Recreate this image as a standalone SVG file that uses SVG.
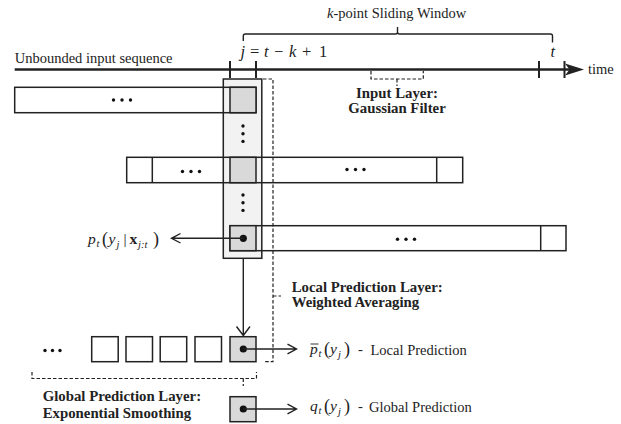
<svg xmlns="http://www.w3.org/2000/svg" width="621" height="424" viewBox="0 0 621 424">
<style>
text{font-family:"Liberation Serif","Times New Roman",serif;fill:#222}
.t{font-size:14.5px}
.b{font-size:14.8px;font-weight:bold}
.m{font-size:15.5px}
.e{font-size:16.5px}
.i{font-style:italic}
.s{font-size:10.5px;font-style:italic}
.pa{font-size:18px}
.ln{stroke:#222;stroke-width:1.4;fill:none}
.row{fill:#fff;stroke:none}
.out{fill:none;stroke:#222;stroke-width:1.5}
.cell{fill:#d9d9d9;stroke:#222;stroke-width:1.5}
.box{fill:#fff;stroke:#222;stroke-width:1.5}
.dash{fill:none;stroke:#222;stroke-width:1.2;stroke-dasharray:3.5,2}
.dot{fill:#111}
</style>

<g id="timeline">
<line x1="14.7" y1="69.5" x2="570" y2="69.5" stroke="#222" stroke-width="2.6"/>
<polygon points="584,69.5 565,63.5 569.5,69.5 565,75.5" fill="#222"/>
<line x1="230" y1="61" x2="230" y2="78" stroke="#222" stroke-width="2"/>
<line x1="256" y1="61" x2="256" y2="78" stroke="#222" stroke-width="2"/>
<line x1="539" y1="61" x2="539" y2="78" stroke="#222" stroke-width="2"/>
<line x1="564.5" y1="61" x2="564.5" y2="78" stroke="#222" stroke-width="2"/>
<text class="t" x="14.7" y="63">Unbounded input sequence</text>
<text class="t" x="588" y="73.5">time</text>
<text class="e" y="57"><tspan class="i" x="240.5">j</tspan><tspan x="250">=</tspan><tspan class="i" x="264">t</tspan><tspan x="274">−</tspan><tspan class="i" x="289">k</tspan><tspan x="302">+</tspan><tspan x="319">1</tspan></text>
<text class="e i" x="550.5" y="57">t</text>
</g>

<g id="window">
<path class="ln" d="M243.3,41 V36 Q243.3,34 245.3,34 H395.5 Q397.5,34 397.5,32 V27 M397.5,32 Q397.5,34 399.5,34 H550.5 Q552.5,34 552.5,36 V42.5"/>
<text class="t" x="327" y="18"><tspan class="i">k</tspan>-point Sliding Window</text>
</g>

<g id="input-layer">
<path class="dash" d="M371,71 V79 H423.3 V71 M397,79 V86"/>
<text class="b" x="397" y="98" text-anchor="middle">Input Layer:</text>
<text class="b" x="397" y="112.5" text-anchor="middle">Gaussian Filter</text>
</g>

<g id="rows-bg">
<rect class="row" x="14.7" y="87.3" width="241.3" height="25.4"/>
<rect class="row" x="126.7" y="157.3" width="336" height="25.4"/>
<rect class="row" x="230" y="225.7" width="336" height="25"/>
</g>

<g id="column">
<rect x="223.3" y="79" width="38.5" height="179.3" fill="#f2f2f2" stroke="#222" stroke-width="1.5"/>
<circle class="dot" cx="243" cy="126" r="1.7"/>
<circle class="dot" cx="243" cy="133.7" r="1.7"/>
<circle class="dot" cx="243" cy="141.4" r="1.7"/>
<circle class="dot" cx="243" cy="195" r="1.7"/>
<circle class="dot" cx="243" cy="202.7" r="1.7"/>
<circle class="dot" cx="243" cy="210.4" r="1.7"/>
</g>

<g id="row1">
<rect class="out" x="14.7" y="87.3" width="241.3" height="25.4"/>
<rect class="cell" x="230" y="87.3" width="26" height="25.4"/>
<circle class="dot" cx="113.5" cy="100" r="1.7"/>
<circle class="dot" cx="122" cy="100" r="1.7"/>
<circle class="dot" cx="130.5" cy="100" r="1.7"/>
</g>

<g id="row2">
<rect class="out" x="126.7" y="157.3" width="336" height="25.4"/>
<line class="out" x1="152.3" y1="157.3" x2="152.3" y2="182.7"/>
<line class="out" x1="436.7" y1="157.3" x2="436.7" y2="182.7"/>
<rect class="cell" x="230" y="157.3" width="26" height="25.4"/>
<circle class="dot" cx="182.5" cy="171.5" r="1.7"/>
<circle class="dot" cx="191" cy="171.5" r="1.7"/>
<circle class="dot" cx="199.5" cy="171.5" r="1.7"/>
<circle class="dot" cx="347" cy="169.5" r="1.7"/>
<circle class="dot" cx="355.5" cy="169.5" r="1.7"/>
<circle class="dot" cx="364" cy="169.5" r="1.7"/>
</g>

<g id="row3">
<rect class="out" x="230" y="225.7" width="336" height="25"/>
<line class="out" x1="540.7" y1="225.7" x2="540.7" y2="250.7"/>
<rect class="cell" x="230" y="225.7" width="26" height="25"/>
<circle class="dot" cx="243.3" cy="238.3" r="3.6"/>
<circle class="dot" cx="397.5" cy="239.3" r="1.7"/>
<circle class="dot" cx="406" cy="239.3" r="1.7"/>
<circle class="dot" cx="414.5" cy="239.3" r="1.7"/>
</g>

<g id="local-layer">
<path class="dash" d="M263,79 H273 V361.7 H265 M273,296 H281"/>
<text class="b" x="291.7" y="291.7">Local Prediction Layer:</text>
<text class="b" x="291.7" y="306.7">Weighted Averaging</text>
</g>

<g id="bottom-row">
<rect class="box" x="91.7" y="336.7" width="26.5" height="25"/>
<rect class="box" x="126" y="336.7" width="26.5" height="25"/>
<rect class="box" x="160.2" y="336.7" width="26.5" height="25"/>
<rect class="box" x="195" y="336.7" width="26.5" height="25"/>
<rect class="cell" x="230" y="336.7" width="26" height="25"/>
<circle class="dot" cx="243.3" cy="349" r="3.6"/>
<circle class="dot" cx="45" cy="350.5" r="1.7"/>
<circle class="dot" cx="52.5" cy="350.5" r="1.7"/>
<circle class="dot" cx="60" cy="350.5" r="1.7"/>
</g>

<g id="global-layer">
<path class="dash" d="M32,372 V378.5 H256.5 V372 M243.3,378.5 V386"/>
<text class="b" x="42.7" y="400.7">Global Prediction Layer:</text>
<text class="b" x="42.7" y="418.3">Exponential Smoothing</text>
</g>

<g id="global-cell">
<rect class="cell" x="230" y="396.7" width="26" height="25"/>
<circle class="dot" cx="243.3" cy="409" r="3.6"/>
</g>

<g id="connectors">
<path class="ln" d="M243.3,238.3 H171.5 M180.5,233.5 L171.5,238.3 L180.5,243"/>
<path class="ln" d="M243.3,258.3 V335.5 M236.5,326.5 L243.3,335.5 L250,326.5"/>
<path class="ln" d="M243.3,349 H296.5 M287.5,344.2 L296.5,349 L287.5,353.8"/>
<path class="ln" d="M243.3,409 H296.5 M287.5,404.2 L296.5,409 L287.5,413.8"/>
</g>

<g id="labels">
<text class="m"><tspan class="i" x="88" y="244">p</tspan><tspan class="s" x="96.5" y="247">t</tspan><tspan class="pa" x="102" y="245">(</tspan><tspan class="i" x="108.5" y="244">y</tspan><tspan class="s" x="116.5" y="247.5">j</tspan><tspan x="123.5" y="244">|</tspan><tspan font-weight="bold" x="129.5" y="244">x</tspan><tspan class="s" x="138" y="247.5">j:t</tspan><tspan class="pa" x="153" y="245">)</tspan></text>
<line x1="310.5" y1="344" x2="318.5" y2="344" stroke="#222" stroke-width="0.9"/>
<text class="m"><tspan class="i" x="310" y="354">p</tspan><tspan class="s" x="318.5" y="357">t</tspan><tspan class="pa" x="324" y="355">(</tspan><tspan class="i" x="330" y="354">y</tspan><tspan class="s" x="338" y="357.5">j</tspan><tspan class="pa" x="344" y="355">)</tspan></text>
<text class="t" x="358" y="354">-</text>
<text class="t" x="370.5" y="355">Local Prediction</text>
<text class="m"><tspan class="i" x="310" y="411">q</tspan><tspan class="s" x="318.5" y="414">t</tspan><tspan class="pa" x="324" y="412">(</tspan><tspan class="i" x="330" y="411">y</tspan><tspan class="s" x="338" y="414.5">j</tspan><tspan class="pa" x="344" y="412">)</tspan></text>
<text class="t" x="358" y="411">-</text>
<text class="t" x="369" y="412">Global Prediction</text>
</g>
</svg>
